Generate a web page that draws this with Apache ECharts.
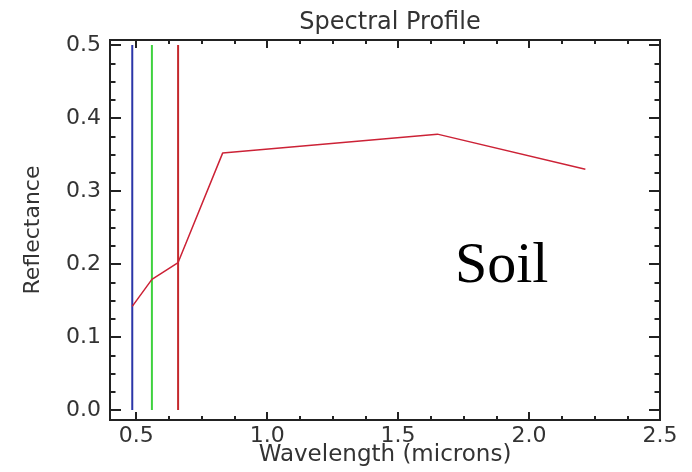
<!DOCTYPE html>
<html>
<head>
<meta charset="utf-8">
<script src="https://cdn.jsdelivr.net/npm/echarts@6/dist/echarts.min.js"></script>
<style>
  html, body { margin: 0; padding: 0; background: #fff; }
  #chart { width: 692px; height: 472px; }
</style>
</head>
<body>
<div id="chart"></div>
<script>
// Landsat TM band centres (microns) and soil reflectance
const wavelengths = [0.485, 0.56, 0.66, 0.83, 1.65, 2.215];
const reflectance = [0.142, 0.179, 0.202, 0.352, 0.378, 0.330];

// RGB display bands drawn as vertical markers
const bandCenters = [0.485, 0.56, 0.66];
const bandColors = ['#2b35a8', '#3fd23f', '#c4282c'];
const bandTop = 0.5;

// tick labels
const xTicks = [0.5, 1.0, 1.5, 2.0, 2.5];
const yTicks = [0.0, 0.1, 0.2, 0.3, 0.4, 0.5];

const X_MIN = 0.4, X_MAX = 2.5;
const Y_MIN = -0.0137, Y_MAX = 0.507;

// minor ticks (4 per major on x, 4 per major on y)
const xMinor = [];
for (let i = 0; i < xTicks.length - 1; i++) {
  for (let k = 1; k < 4; k++) xMinor.push(+(xTicks[i] + k * 0.125).toFixed(4));
}
const yMinor = [];
for (let i = 0; i < yTicks.length - 1; i++) {
  for (let k = 1; k < 4; k++) yMinor.push(+(yTicks[i] + k * 0.025).toFixed(4));
}

const ink = '#222';
const labelFont = { fontFamily: 'DejaVu Sans', fontSize: 22, color: '#333' };

function xAxisOf(position, ticks, len, withLabel) {
  return {
    type: 'value', position, min: X_MIN, max: X_MAX,
    axisLine: { show: true, onZero: false, lineStyle: { color: ink, width: 2 } },
    axisTick: { show: true, inside: true, length: len, customValues: ticks, lineStyle: { color: ink, width: 2 } },
    axisLabel: withLabel
      ? Object.assign({ show: true, customValues: ticks, margin: 5, formatter: v => v.toFixed(1) }, labelFont)
      : { show: false },
    splitLine: { show: false }
  };
}

function yAxisOf(position, ticks, len, withLabel) {
  return {
    type: 'value', position, min: Y_MIN, max: Y_MAX,
    axisLine: { show: true, onZero: false, lineStyle: { color: ink, width: 2 } },
    axisTick: { show: true, inside: true, length: len, customValues: ticks, lineStyle: { color: ink, width: 2 } },
    axisLabel: withLabel
      ? Object.assign({ show: true, customValues: ticks, margin: 9, formatter: v => v.toFixed(1) }, labelFont)
      : { show: false },
    splitLine: { show: false }
  };
}

const xAxes = [
  Object.assign(xAxisOf('bottom', xTicks, 8, true), {
    name: 'Wavelength (microns)', nameLocation: 'middle', nameGap: 24, nameMoveOverlap: false,
    nameTextStyle: { fontFamily: 'DejaVu Sans', fontSize: 23, color: '#333' }
  }),
  xAxisOf('bottom', xMinor, 4, false),
  xAxisOf('top', xTicks, 8, false),
  xAxisOf('top', xMinor, 4, false)
];

const yAxes = [
  Object.assign(yAxisOf('left', yTicks, 11, true), {
    name: 'Reflectance', nameLocation: 'middle', nameGap: 66, nameRotate: 90,
    nameTextStyle: { fontFamily: 'DejaVu Sans', fontSize: 22, color: '#333' }
  }),
  yAxisOf('left', yMinor, 5.5, false),
  yAxisOf('right', yTicks, 11, false),
  yAxisOf('right', yMinor, 5.5, false)
];

const series = bandCenters.map((x, i) => ({
  type: 'line',
  data: [[x, 0], [x, bandTop]],
  symbol: 'none',
  silent: true,
  lineStyle: { color: bandColors[i], width: 2 }
}));

series.push({
  type: 'line',
  data: wavelengths.map((w, i) => [w, reflectance[i]]),
  symbol: 'none',
  lineStyle: { color: '#cc2236', width: 1.5 }
});

const chart = echarts.init(document.getElementById('chart'), null, { renderer: 'canvas' });
chart.setOption({
  animation: false,
  backgroundColor: '#fff',
  title: {
    text: 'Spectral Profile', left: 385, top: 6, textAlign: 'center',
    textStyle: { fontFamily: 'DejaVu Sans', fontSize: 24, fontWeight: 'normal', color: '#333' }
  },
  grid: { left: 110, right: 32, top: 40, bottom: 52, outerBoundsMode: 'none' },
  xAxis: xAxes,
  yAxis: yAxes,
  series: series,
  graphic: [{
    type: 'text', left: 455, top: 238,
    style: { text: 'Soil', font: '58px "Liberation Serif"', fill: '#000' }
  }]
});
</script>
</body>
</html>
